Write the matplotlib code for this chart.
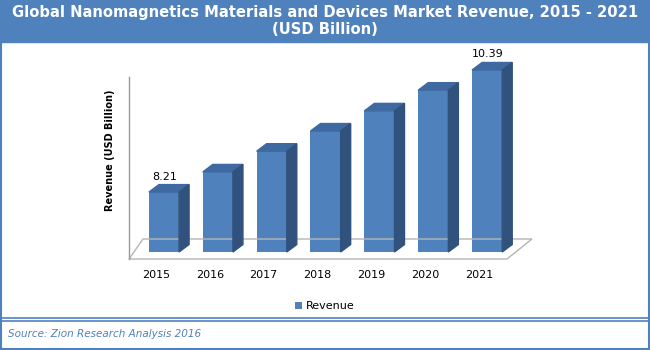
import matplotlib
matplotlib.use("Agg")
import matplotlib.pyplot as plt
from matplotlib.patches import Polygon, Rectangle
from matplotlib.lines import Line2D
from matplotlib.transforms import IdentityTransform

# data
years = ["2015", "2016", "2017", "2018", "2019", "2020", "2021"]
revenue = [8.21, 8.57, 8.94, 9.30, 9.66, 10.03, 10.39]
labelled = {0: "8.21", 6: "10.39"}

BLUE = "#4F81BD"
TOP = "#3E6AA1"
SIDE = "#31527D"
W, H = 650, 350

fig = plt.figure(figsize=(6.5, 3.5), dpi=100)


def px(x, y):
    # pixel from top-left -> figure fraction
    return x / W, 1 - y / H


# header band and frame
fig.patches.append(Rectangle((0, 1 - 42 / H), 1, 42 / H, transform=fig.transFigure,
                             color=BLUE, zorder=0))
fig.patches.append(Rectangle((0.002, 0.003), 0.996, 0.994, transform=fig.transFigure,
                             fill=False, edgecolor=BLUE, lw=1.5))
for yy in (318, 321):
    fig.lines.append(Line2D([0, 1], [1 - yy / H] * 2, transform=fig.transFigure,
                            color=BLUE, lw=1.2))

fig.text(0.5, 1 - 12 / H, "Global Nanomagnetics Materials and Devices Market Revenue, 2015 - 2021",
         color="white", fontsize=10.6, fontweight="bold", ha="center", va="center")
fig.text(0.5, 1 - 30 / H, "(USD Billion)", color="white", fontsize=10.6,
         fontweight="bold", ha="center", va="center")
fig.text(8 / W, 1 - 334 / H, "Source: Zion Research Analysis 2016", color=BLUE,
         fontsize=7.5, style="italic", ha="left", va="center")

# plot area
l, b = px(129, 252)
r, t = px(520, 70)
ax = fig.add_axes([l, b, r - l, t - b])
ax.set_xlim(-0.65, 6.61)
ax.set_ylim(7.14, 10.39)
ax.axis("off")

bw = 0.56
bars = ax.bar(range(len(years)), revenue, width=bw, color=BLUE, zorder=3,
              label="Revenue")

fig.canvas.draw()
dx, dy = 10, 7.5
for i, v in enumerate(revenue):
    x0, y0 = ax.transData.transform((i - bw / 2, ax.get_ylim()[0]))
    x1, y1 = ax.transData.transform((i + bw / 2, v))
    top = Polygon([(x0, y1), (x1, y1), (x1 + dx, y1 + dy), (x0 + dx, y1 + dy)],
                  closed=True, color=TOP, transform=IdentityTransform(), zorder=4)
    side = Polygon([(x1, y0), (x1 + dx, y0 + dy), (x1 + dx, y1 + dy), (x1, y1)],
                   closed=True, color=SIDE, transform=IdentityTransform(), zorder=4)
    fig.patches.extend([top, side])
    if i in labelled:
        fig.text((x0 + x1) / 2 / W + 0.001, (y1 + dy + 8) / H, labelled[i],
                 fontsize=8, ha="center", va="center")
    fig.text((x0 + x1) / 2 / W - 8 / W, 1 - 275 / H, years[i], fontsize=8,
             ha="center", va="center")

# floor and vertical axis
grey = "#B5B5B5"
floor = [(129, 259), (507, 259), (532, 239), (143, 239)]
fig.patches.append(Polygon([(x / W, 1 - y / H) for x, y in floor], closed=True,
                           fill=False, edgecolor=grey, lw=1, transform=fig.transFigure,
                           zorder=1))
fig.lines.append(Line2D([129 / W, 129 / W], [1 - 77 / H, 1 - 259 / H],
                        transform=fig.transFigure, color="#999999", lw=1))

fig.text(110 / W, 1 - 150 / H, "Revenue (USD Billion)", rotation=90, fontsize=7,
         fontweight="bold", ha="center", va="center")

fig.legend(handles=[bars], labels=["Revenue"], loc="center",
           bbox_to_anchor=(0.5, 1 - 306 / H), frameon=False, fontsize=8,
           handlelength=0.6, handleheight=0.6, handletextpad=0.4)

fig.savefig("out.png", dpi=100)
